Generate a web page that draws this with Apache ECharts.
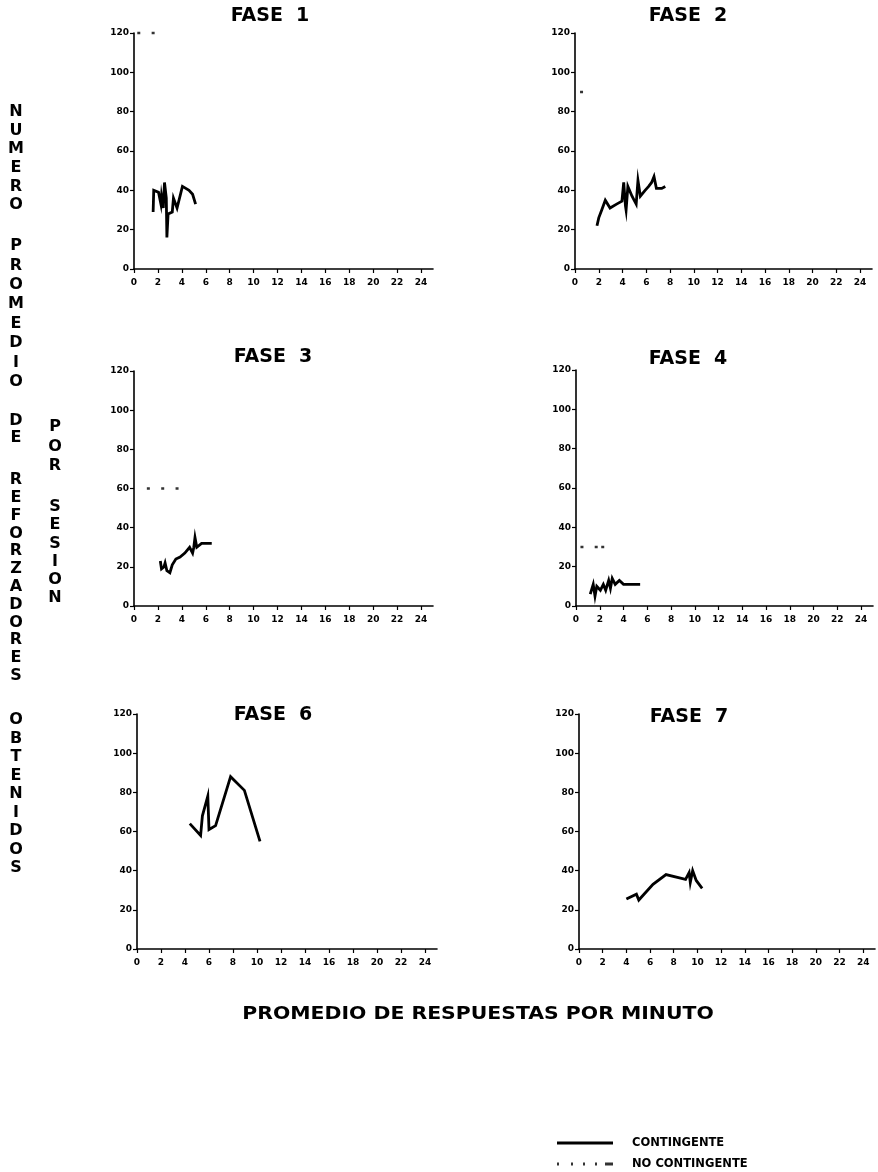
<!DOCTYPE html>
<html>
<head>
<meta charset="utf-8">
<script src="https://cdn.jsdelivr.net/npm/echarts@6/dist/echarts.min.js"></script>
<style>
html,body{margin:0;padding:0;background:#fff;}
#chart{width:878px;height:1172px;}
</style>
</head>
<body>
<div id="chart"></div>
<script>
// ---- data ----
const phaseTitles = ['FASE  1', 'FASE  2', 'FASE  3', 'FASE  4', 'FASE  6', 'FASE  7'];
const xTicks = [0, 2, 4, 6, 8, 10, 12, 14, 16, 18, 20, 22, 24];
const yTicks = [0, 20, 40, 60, 80, 100, 120];

const contingente1 = [[1.6,29],[1.65,40],[2.05,39],[2.25,33],[2.3,37],[2.45,31],[2.55,44],[2.7,36],[2.75,16],[2.85,28],[3.2,29],[3.3,36],[3.6,31],[4.05,42],[4.6,40],[4.9,38],[5.15,33]];
const contingente2 = [[1.85,22],[2.0,26],[2.25,30],[2.55,35],[2.95,31],[3.5,33],[3.95,34.5],[4.1,44],[4.25,32],[4.3,30],[4.45,42],[4.8,37],[5.15,33],[5.3,45],[5.5,37],[5.9,40],[6.2,42],[6.45,44],[6.65,47],[6.85,41],[7.3,41],[7.6,42]];
const contingente3 = [[2.2,23],[2.3,19],[2.5,20],[2.6,22],[2.75,18],[3.0,17],[3.2,21],[3.5,24],[3.85,25],[4.25,27],[4.65,30],[4.9,27],[5.0,30],[5.1,35],[5.25,30],[5.65,32],[6.5,32]];
const contingente4 = [[1.2,6],[1.45,11],[1.6,5],[1.75,10],[2.05,8],[2.3,11],[2.5,8],[2.75,13],[2.9,9],[3.05,14],[3.3,11],[3.65,13],[4.0,11],[5.4,11]];
const contingente6 = [[4.4,64],[5.3,58],[5.45,68],[5.9,78],[6.0,61],[6.55,63],[7.8,88],[8.95,81],[10.25,55]];
const contingente7 = [[4.0,25.5],[4.85,28],[5.05,25],[6.25,33],[7.35,38],[9.0,35.5],[9.3,39],[9.4,34],[9.6,40],[9.9,35],[10.4,31]];

const noContingente1 = [[0.4,120],[1.6,120]];
const noContingente2 = [[0.55,90]];
const noContingente3 = [[1.2,60],[2.4,60],[3.6,60]];
const noContingente4 = [[0.5,30],[1.7,30],[2.25,30]];
const noContingente6 = [];
const noContingente7 = [];

const seriesNames = ['CONTINGENTE', 'NO CONTINGENTE'];
const yTitleWords = ['NUMERO', 'PROMEDIO', 'DE', 'REFORZADORES', 'OBTENIDOS'];
const yTitleWords2 = ['POR', 'SESION'];
const xTitle = 'PROMEDIO DE RESPUESTAS POR MINUTO';

// ---- layout ----
const panels = [
  {left:134, top:33,  width:299, height:236, tx:270, ty:16},
  {left:575, top:33,  width:297, height:236, tx:688, ty:16},
  {left:134, top:371, width:299, height:235, tx:273, ty:357},
  {left:576, top:370, width:297, height:236, tx:688, ty:359},
  {left:137, top:714, width:300, height:235, tx:273, ty:715},
  {left:579, top:714, width:296, height:235, tx:689, ty:717}
];
const contData = [contingente1, contingente2, contingente3, contingente4, contingente6, contingente7];
const ncData = [noContingente1, noContingente2, noContingente3, noContingente4, noContingente6, noContingente7];

const FONT = '"DejaVu Sans", "Liberation Sans", Arial, sans-serif';

const grids = [], xAxes = [], yAxes = [], series = [], graphics = [];
panels.forEach((p, i) => {
  grids.push({left:p.left, top:p.top, width:p.width, height:p.height, containLabel:false});
  xAxes.push({
    type:'value', gridIndex:i, min:0, max:25, interval:2,
    axisLine:{show:true, lineStyle:{color:'#000', width:1.6}},
    axisTick:{show:true, length:4, lineStyle:{color:'#000', width:1.2}, customValues:xTicks},
    axisLabel:{color:'#000', fontFamily:FONT, fontWeight:'bold', fontSize:9, margin:9, customValues:xTicks},
    splitLine:{show:false}
  });
  yAxes.push({
    type:'value', gridIndex:i, min:0, max:120, interval:20,
    axisLine:{show:true, lineStyle:{color:'#000', width:1.6}},
    axisTick:{show:true, length:4, lineStyle:{color:'#000', width:1.2}, customValues:yTicks},
    axisLabel:{color:'#000', fontFamily:FONT, fontWeight:'bold', fontSize:9, margin:5, customValues:yTicks},
    splitLine:{show:false}
  });
  series.push({
    name:seriesNames[0], type:'line', xAxisIndex:i, yAxisIndex:i,
    data:contData[i], showSymbol:false, symbol:'none', smooth:false,
    lineStyle:{color:'#000', width:2.8, join:'miter'}, itemStyle:{color:'#000'},
    animation:false, silent:true
  });
  series.push({
    name:seriesNames[1], type:'scatter', xAxisIndex:i, yAxisIndex:i,
    data:ncData[i], symbol:'rect', symbolSize:[3,2.5],
    itemStyle:{color:'#000'}, animation:false, silent:true
  });
  graphics.push({
    type:'text', x:p.tx, y:p.ty,
    style:{text:phaseTitles[i], font:'bold 19px ' + FONT, fill:'#000', textAlign:'center', textVerticalAlign:'middle'}
  });
});

// vertical y-axis title (stacked letters): each word gets its own start and letter pitch
function stackWords(words, x, starts, pitches) {
  words.forEach((w, wi) => {
    let y = starts[wi];
    for (const ch of w) {
      graphics.push({
        type:'text', x:x, y:y,
        style:{text:ch, font:'bold 16px ' + FONT, fill:'#000', textAlign:'center', textVerticalAlign:'middle'}
      });
      y += pitches[wi];
    }
  });
}
stackWords(yTitleWords, 16, [112, 246, 421, 480, 720], [18.6, 19.4, 17, 17.8, 18.5]);
stackWords(yTitleWords2, 55, [427, 507], [19.5, 18.2]);

graphics.push({
  type:'text', x:478, y:1015, scaleX:1.2,
  style:{text:xTitle, font:'bold 17px ' + FONT, fill:'#000', textAlign:'center', textVerticalAlign:'middle'}
});

const legendText = {color:'#000', fontFamily:FONT, fontWeight:'bold', fontSize:11.5, padding:[0,0,0,14]};
const option = {
  backgroundColor:'#fff',
  animation:false,
  grid:grids, xAxis:xAxes, yAxis:yAxes, series:series,
  graphic:graphics,
  legend:[
    {
      left:557, top:1137, padding:0, itemWidth:56, itemHeight:3, selectedMode:false,
      textStyle:legendText,
      data:[{name:seriesNames[0], icon:'rect', itemStyle:{color:'#000'}}]
    },
    {
      left:557, top:1158, padding:0, itemWidth:56, itemHeight:3, selectedMode:false,
      textStyle:legendText,
      data:[{name:seriesNames[1], icon:'path://M0,0h2v3h-2zM14,0h2v3h-2zM26,0h2v3h-2zM38,0h2v3h-2zM48,0h8v3h-8z', itemStyle:{color:'#000'}}]
    }
  ]
};
const chart = echarts.init(document.getElementById('chart'), null, {renderer:'canvas'});
chart.setOption(option);
</script>
</body>
</html>
